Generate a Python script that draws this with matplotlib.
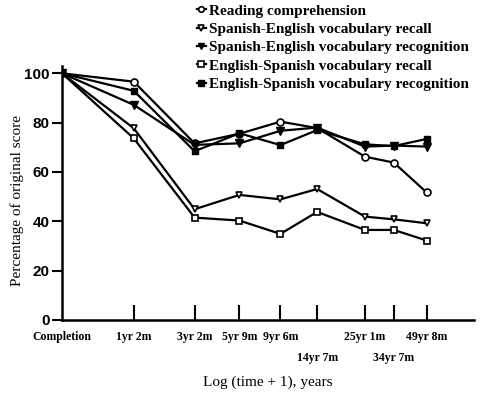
import numpy as np
import matplotlib
matplotlib.use("Agg")
import matplotlib.pyplot as plt

# retention intervals (years) and their tick labels
years = [0, 1 + 2/12, 3 + 2/12, 5 + 9/12, 9 + 6/12, 14 + 7/12, 25 + 1/12, 34 + 7/12, 49 + 8/12]
tick_labels = ["Completion", "1yr 2m", "3yr 2m", "5yr 9m", "9yr 6m",
               "14yr 7m", "25yr 1m", "34yr 7m", "49yr 8m"]
low_row = [5, 7]  # labels printed on the second line

reading = [100, 96.6, 71.6, 75.5, 80.4, 77.8, 66.2, 63.8, 51.7]
se_recall = [100, 77.7, 44.9, 50.7, 48.9, 53.1, 41.9, 40.8, 39.2]
se_recog = [100, 87.2, 71.0, 71.6, 76.7, 78.0, 70.3, 70.7, 70.3]
es_recall = [100, 73.6, 41.5, 40.3, 34.9, 43.8, 36.5, 36.5, 32.2]
es_recog = [100, 92.9, 68.4, 75.7, 70.9, 77.0, 71.2, 70.5, 73.4]

x = np.log10(np.array(years) + 1)

fig = plt.figure(figsize=(4.82, 3.97), dpi=100)
ax = fig.add_axes([0.1286, 0.194, 0.983 - 0.1286, 0.834 - 0.194])

lw = 1.6
ax.plot(x, reading, "-o", color="black", lw=lw, ms=5, mfc="white", mew=1.2,
        label="Reading comprehension")
ax.plot(x, se_recall, "-v", color="black", lw=lw, ms=5, mfc="white", mew=1.2,
        label="Spanish-English vocabulary recall")
ax.plot(x, se_recog, "-v", color="black", lw=lw, ms=6, mfc="black",
        label="Spanish-English vocabulary recognition")
ax.plot(x, es_recall, "-s", color="black", lw=lw, ms=5, mfc="white", mew=1.2,
        label="English-Spanish vocabulary recall")
ax.plot(x, es_recog, "-s", color="black", lw=lw, ms=5, mfc="black",
        label="English-Spanish vocabulary recognition")

ax.set_xlim(0, 1.925)
ax.set_ylim(0, 103)
ax.spines["top"].set_visible(False)
ax.spines["right"].set_visible(False)
ax.spines["left"].set_linewidth(1.8)
ax.spines["bottom"].set_linewidth(1.8)

ax.set_yticks([0, 20, 40, 60, 80, 100])
ax.tick_params(axis="y", direction="out", length=7, width=1.5, pad=2)
for t in ax.get_yticklabels():
    t.set_fontfamily("Liberation Sans")
    t.set_fontweight("bold")
    t.set_fontsize(11)

ax.set_xticks(x)
ax.set_xticklabels(tick_labels, fontfamily="Liberation Serif", fontweight="bold",
                   fontsize=8.5)
ax.tick_params(axis="x", direction="in", length=11, width=1.5, pad=8)
ticks = ax.xaxis.get_major_ticks()
ticks[0].tick1line.set_visible(False)
for i in low_row:
    ticks[i].set_pad(23)

ax.set_xlabel("Log (time + 1), years", fontfamily="Liberation Serif", fontsize=11,
              labelpad=8)
ax.set_ylabel("Percentage of original score", fontfamily="Liberation Serif",
              fontsize=11)
ax.yaxis.set_label_coords(-0.092, 0.47)

fig.legend(loc="upper left", bbox_to_anchor=(0.395, 1.005), frameon=False,
           handlelength=0.6, handletextpad=0.2, labelspacing=0.3,
           borderaxespad=0, markerscale=0.8,
           prop={"family": "Liberation Serif", "weight": "bold", "size": 11})

fig.savefig("out.png", dpi=100)
